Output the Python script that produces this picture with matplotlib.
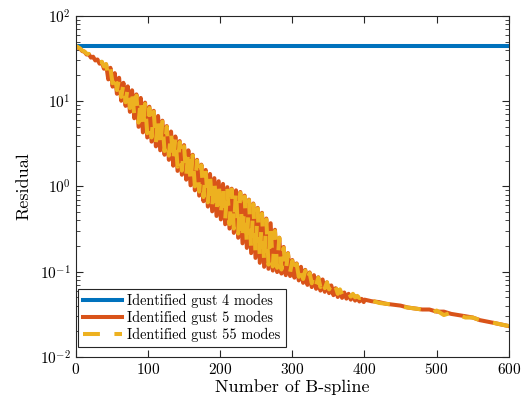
import numpy as np
import matplotlib.pyplot as plt
from matplotlib.ticker import LogLocator, NullFormatter

plt.rcParams['font.family'] = 'cmr10'
plt.rcParams['mathtext.fontset'] = 'cm'
plt.rcParams['axes.formatter.use_mathtext'] = True

# x positions (number of B-spline)
x_osc = list(range(0, 400, 3))
x_tail = list(range(400, 601, 10))

# residual, 4 modes (flat)
x_blue = [0, 600]
res_4 = [44.5, 44.5]

# residual, 5 modes
res_5_osc = [44, 42.5, 41.2, 38.6, 38, 35.2, 35.6, 32.4, 33.2, 30,
             30.8, 27.5, 28.8, 24, 27, 18, 24.6, 14.8, 21.3, 12.2,
             18.8, 10.1, 16.4, 8.8, 14.9, 7.5, 13.4, 6.3, 12, 5.0,
             10.9, 4.3, 9.6, 3.75, 8.6, 3.35, 7.7, 2.95, 6.7, 2.65,
             5.9, 2.35, 5.1, 2.05, 4.4, 1.75, 3.85, 1.52, 3.4, 1.37,
             3.05, 1.2, 2.65, 1.03, 2.35, 0.9, 2.05, 0.78, 1.8, 0.67,
             1.56, 0.58, 1.4, 0.51, 1.25, 0.45, 1.15, 0.41, 1.07, 0.36,
             0.98, 0.32, 0.94, 0.285, 0.9, 0.25, 0.86, 0.215, 0.78, 0.19,
             0.7, 0.165, 0.63, 0.145, 0.56, 0.127, 0.49, 0.114, 0.42, 0.108,
             0.37, 0.103, 0.31, 0.099, 0.25, 0.095, 0.195, 0.091, 0.165, 0.089,
             0.137, 0.085, 0.125, 0.079, 0.114, 0.074, 0.105, 0.07, 0.098, 0.066,
             0.091, 0.063, 0.086, 0.06, 0.081, 0.058, 0.075, 0.056, 0.069, 0.053,
             0.064, 0.0505, 0.06, 0.0493, 0.057, 0.0483, 0.055, 0.047, 0.053, 0.0458,
             0.05, 0.0447, 0.048, 0.044]
res_5_tail = [0.047, 0.045, 0.044, 0.042, 0.041, 0.040, 0.038, 0.037, 0.036, 0.036,
              0.034, 0.034, 0.032, 0.031, 0.030, 0.029, 0.027, 0.026, 0.025, 0.024,
              0.023]

# residual, 55 modes
res_55_osc = [44.5, 43, 41.4, 39.2, 38.2, 36, 35.8, 33.2, 33.4, 30.8,
              31, 28.5, 29, 25.5, 27.2, 19.5, 24, 16.2, 20.8, 13.5,
              18.3, 11.2, 15.8, 9.7, 14.4, 8.3, 12.9, 6.9, 11.6, 5.6,
              10.5, 4.8, 9.3, 4.2, 8.3, 3.75, 7.5, 3.3, 6.5, 2.95,
              5.75, 2.6, 5.0, 2.3, 4.3, 1.95, 3.75, 1.7, 3.3, 1.53,
              2.95, 1.34, 2.6, 1.15, 2.3, 1.0, 2.0, 0.87, 1.77, 0.75,
              1.53, 0.65, 1.36, 0.57, 1.21, 0.5, 1.12, 0.46, 1.04, 0.4,
              0.96, 0.36, 0.92, 0.32, 0.88, 0.28, 0.84, 0.24, 0.76, 0.21,
              0.69, 0.185, 0.62, 0.162, 0.55, 0.142, 0.48, 0.128, 0.41, 0.121,
              0.36, 0.115, 0.3, 0.111, 0.25, 0.106, 0.19, 0.102, 0.163, 0.099,
              0.134, 0.094, 0.123, 0.087, 0.112, 0.082, 0.103, 0.077, 0.096, 0.073,
              0.09, 0.07, 0.085, 0.066, 0.08, 0.064, 0.075, 0.062, 0.07, 0.059,
              0.066, 0.055, 0.062, 0.054, 0.059, 0.053, 0.057, 0.051, 0.055, 0.05,
              0.052, 0.049, 0.05, 0.048]
res_55_tail = [0.046, 0.046, 0.043, 0.042, 0.041, 0.039, 0.038, 0.037, 0.036, 0.032,
               0.035, 0.031, 0.033, 0.031, 0.029, 0.029, 0.027, 0.026, 0.025, 0.024,
               0.023]

labels = ['Identified gust 4 modes', 'Identified gust 5 modes', 'Identified gust 55 modes']
colors = ['#0072BD', '#D95319', '#EDB120']

x_all = x_osc + x_tail
fig = plt.figure(figsize=(5.3, 4.07), dpi=100)
ax = fig.add_axes([0.143, 0.123, 0.817, 0.838])

ax.plot(x_blue, res_4, color=colors[0], lw=2.9, label=labels[0])
ax.plot(x_all, res_5_osc + res_5_tail, color=colors[1], lw=2.9, label=labels[1])
ax.plot(x_all, res_55_osc + res_55_tail, color=colors[2], lw=2.9,
        dashes=(4.2, 3.6), label=labels[2])

ax.set_yscale('log')
ax.set_xlim(0, 600)
ax.set_ylim(1e-2, 1e2)
ax.set_xticks([0, 100, 200, 300, 400, 500, 600])
ax.yaxis.set_major_locator(LogLocator(base=10, numticks=10))
ax.yaxis.set_minor_locator(LogLocator(base=10, subs=np.arange(2, 10), numticks=20))
ax.yaxis.set_minor_formatter(NullFormatter())

ax.tick_params(which='both', direction='in', top=True, right=True,
               colors='#262626', labelcolor='black', labelsize=11)
ax.tick_params(which='major', length=5, width=0.8)
ax.tick_params(which='minor', length=3, width=0.6)
for s in ax.spines.values():
    s.set_color('#262626')
    s.set_linewidth(0.8)

ax.set_xlabel('Number of B-spline', fontsize=13, labelpad=2)
ax.set_ylabel('Residual', fontsize=13, labelpad=6)

leg = ax.legend(loc='lower left', bbox_to_anchor=(0.005, 0.029), borderaxespad=0,
                fontsize=10.3, fancybox=False, framealpha=1, edgecolor='#262626',
                handlelength=2.75, handletextpad=0.35, labelspacing=0.2,
                borderpad=0.35)
leg.get_frame().set_linewidth(0.8)

fig.savefig('out.png', dpi=100)
